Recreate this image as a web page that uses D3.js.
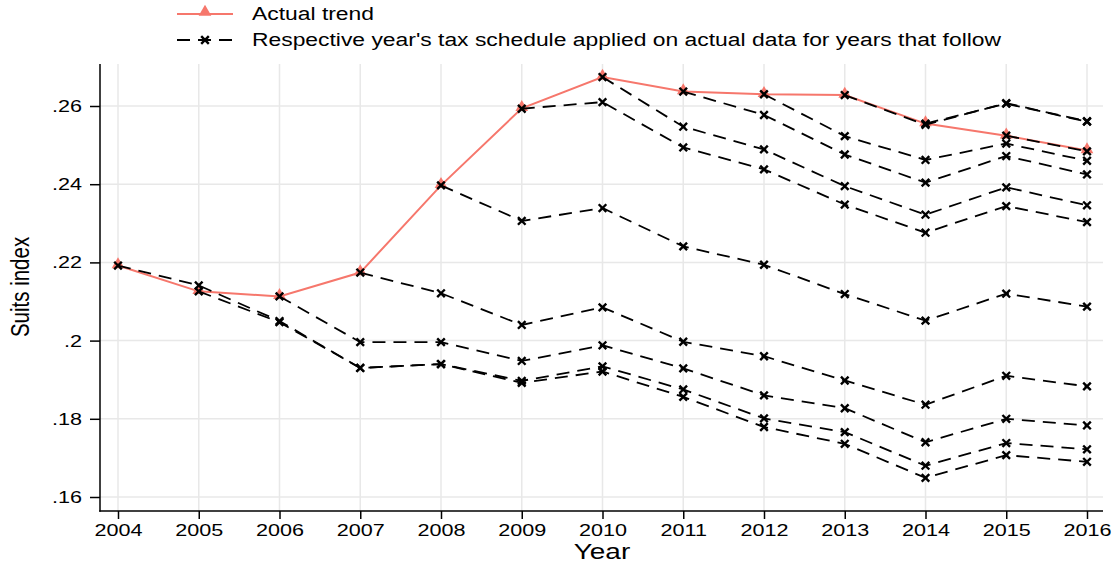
<!DOCTYPE html>
<html lang="en">
<head>
  <meta charset="UTF-8">
  <title>Suits index by year</title>
  <style>
    body {
      margin: 0;
      background: white;
      font-family: "Liberation Sans", Arial, sans-serif;
    }
    svg text {
      fill: black;
    }
  </style>
</head>
<body>
  <div id="chart"></div>

  <script src="https://d3js.org/d3.v7.min.js"></script>
  <script>
    const years = [2004, 2005, 2006, 2007, 2008, 2009, 2010, 2011, 2012, 2013, 2014, 2015, 2016];
    const yTicks = [0.16, 0.18, 0.2, 0.22, 0.24, 0.26];

    // Actual Suits index
    const actual = [0.2192, 0.2126, 0.2113, 0.2174, 0.2397, 0.2594, 0.2674, 0.2637, 0.2630, 0.2628, 0.2555, 0.2524, 0.2486];

    // Each year's tax schedule applied on the years that follow (starts at that year)
    const from2004 = [0.2192, 0.2141, 0.2050, 0.1930, 0.1940, 0.1892, 0.1921, 0.1856, 0.1779, 0.1736, 0.1649, 0.1707, 0.1690];
    const from2005 = [0.2126, 0.2047, 0.1930, 0.1940, 0.1897, 0.1934, 0.1875, 0.1801, 0.1766, 0.1680, 0.1738, 0.1722];
    const from2006 = [0.2113, 0.1996, 0.1996, 0.1948, 0.1988, 0.1929, 0.1860, 0.1827, 0.1740, 0.1800, 0.1783];
    const from2007 = [0.2174, 0.2121, 0.2040, 0.2085, 0.1997, 0.1960, 0.1898, 0.1836, 0.1910, 0.1883];
    const from2008 = [0.2397, 0.2306, 0.2339, 0.2241, 0.2194, 0.2119, 0.2051, 0.2120, 0.2087];
    const from2009 = [0.2593, 0.2610, 0.2494, 0.2438, 0.2348, 0.2276, 0.2344, 0.2303];
    const from2010 = [0.2674, 0.2547, 0.2489, 0.2395, 0.2322, 0.2392, 0.2346];
    const from2011 = [0.2637, 0.2577, 0.2476, 0.2404, 0.2472, 0.2425];
    const from2012 = [0.2630, 0.2523, 0.2462, 0.2504, 0.2460];
    const from2013 = [0.2628, 0.2552, 0.2607, 0.2561];
    const from2014 = [0.2555, 0.2606, 0.2560];
    const from2015 = [0.2524, 0.2484];

    const scheduleSeries = [from2004, from2005, from2006, from2007, from2008, from2009,
      from2010, from2011, from2012, from2013, from2014, from2015]
      .map(vals => vals.map((v, i) => ({ year: years[years.length - vals.length + i], value: v })));

    const width = 1116, height = 564;
    const plot = { left: 100, right: 1103, top: 64, bottom: 511 };
    const stretch = 1.27; // the original's lettering is set wide

    const svg = d3.select("#chart").append("svg")
      .attr("width", width)
      .attr("height", height);

    const x = d3.scaleLinear().domain([2004, 2016]).range([118, 1087]);
    const y = d3.scaleLinear().domain([0.16, 0.26]).range([497, 106]);

    function widen(sel) {
      sel.each(function() {
        const len = this.getComputedTextLength();
        d3.select(this)
          .attr("textLength", len * stretch)
          .attr("lengthAdjust", "spacingAndGlyphs");
      });
    }

    // Grid
    const grid = svg.append("g").attr("stroke", "#e8e8e8").attr("stroke-width", 1.5);
    grid.selectAll(".vg").data(years).enter().append("line")
      .attr("x1", d => x(d)).attr("x2", d => x(d))
      .attr("y1", plot.top).attr("y2", plot.bottom);
    grid.selectAll(".hg").data(yTicks).enter().append("line")
      .attr("x1", plot.left).attr("x2", plot.right)
      .attr("y1", d => y(d)).attr("y2", d => y(d));

    // Axes
    const fmt = v => String(v).replace(/^0/, "");
    const yAxis = svg.append("g")
      .attr("transform", `translate(${plot.left},0)`)
      .call(d3.axisLeft(y).tickValues(yTicks).tickFormat(fmt).tickSize(10).tickPadding(8));
    yAxis.select(".domain").remove();
    yAxis.selectAll("text").attr("font-size", 17).attr("font-family", "Liberation Sans, Arial, sans-serif").call(widen);
    yAxis.selectAll("line").attr("stroke-width", 1.5);

    const xAxis = svg.append("g")
      .attr("transform", `translate(0,${plot.bottom})`)
      .call(d3.axisBottom(x).tickValues(years).tickFormat(d3.format("d")).tickSize(8).tickPadding(5));
    xAxis.select(".domain").remove();
    xAxis.selectAll("text").attr("font-size", 17).attr("font-family", "Liberation Sans, Arial, sans-serif").call(widen);
    xAxis.selectAll("line").attr("stroke-width", 1.5);

    svg.append("line")
      .attr("x1", plot.left).attr("x2", plot.left)
      .attr("y1", plot.top).attr("y2", plot.bottom + 0.75)
      .attr("stroke", "black").attr("stroke-width", 1.5);
    svg.append("line")
      .attr("x1", plot.left - 0.75).attr("x2", plot.right)
      .attr("y1", plot.bottom).attr("y2", plot.bottom)
      .attr("stroke", "black").attr("stroke-width", 1.5);

    // Axis titles
    svg.append("text")
      .attr("x", 602).attr("y", 559)
      .attr("text-anchor", "middle")
      .attr("font-size", 22)
      .text("Year")
      .call(widen);
    svg.append("text")
      .attr("transform", `translate(29,287) scale(${stretch},1) rotate(-90)`)
      .attr("text-anchor", "middle")
      .attr("font-size", 20.5)
      .text("Suits index");

    const red = "#f6776c";
    const line = d3.line().x(d => x(d.year)).y(d => y(d.value));
    const triangle = d3.symbol().type(d3.symbolTriangle).size(70);

    function xMark(g, cx, cy) {
      const s = 3.8;
      g.append("path")
        .attr("d", `M${cx - s},${cy - s}L${cx + s},${cy + s}M${cx - s},${cy + s}L${cx + s},${cy - s}`)
        .attr("stroke", "black").attr("stroke-width", 2.4).attr("fill", "none");
    }

    // Actual trend
    const actualPts = years.map((yr, i) => ({ year: yr, value: actual[i] }));
    svg.append("path")
      .datum(actualPts)
      .attr("d", line)
      .attr("fill", "none")
      .attr("stroke", red)
      .attr("stroke-width", 2);
    svg.selectAll(".tri").data(actualPts).enter().append("path")
      .attr("transform", d => `translate(${x(d.year)},${y(d.value) - 1})`)
      .attr("d", triangle)
      .attr("fill", red);

    // Counterfactual schedules
    const sched = svg.append("g");
    scheduleSeries.forEach(s => {
      sched.append("path")
        .datum(s)
        .attr("d", line)
        .attr("fill", "none")
        .attr("stroke", "black")
        .attr("stroke-width", 1.8)
        .attr("stroke-dasharray", "13,8");
    });
    scheduleSeries.forEach(s => {
      s.forEach(d => xMark(sched, x(d.year), y(d.value)));
    });

    // Legend
    const lg = svg.append("g");
    lg.append("line")
      .attr("x1", 177).attr("x2", 233).attr("y1", 14).attr("y2", 14)
      .attr("stroke", red).attr("stroke-width", 2);
    lg.append("path")
      .attr("transform", "translate(205,12)")
      .attr("d", triangle)
      .attr("fill", red);
    lg.append("text")
      .attr("x", 252).attr("y", 20)
      .attr("font-size", 18)
      .text("Actual trend")
      .call(widen);

    lg.append("line")
      .attr("x1", 177).attr("x2", 233).attr("y1", 40).attr("y2", 40)
      .attr("stroke", "black").attr("stroke-width", 1.8)
      .attr("stroke-dasharray", "13,8");
    xMark(lg, 205, 40);
    lg.append("text")
      .attr("x", 252).attr("y", 46)
      .attr("font-size", 18)
      .text("Respective year's tax schedule applied on actual data for years that follow")
      .call(widen);
  </script>
</body>
</html>
